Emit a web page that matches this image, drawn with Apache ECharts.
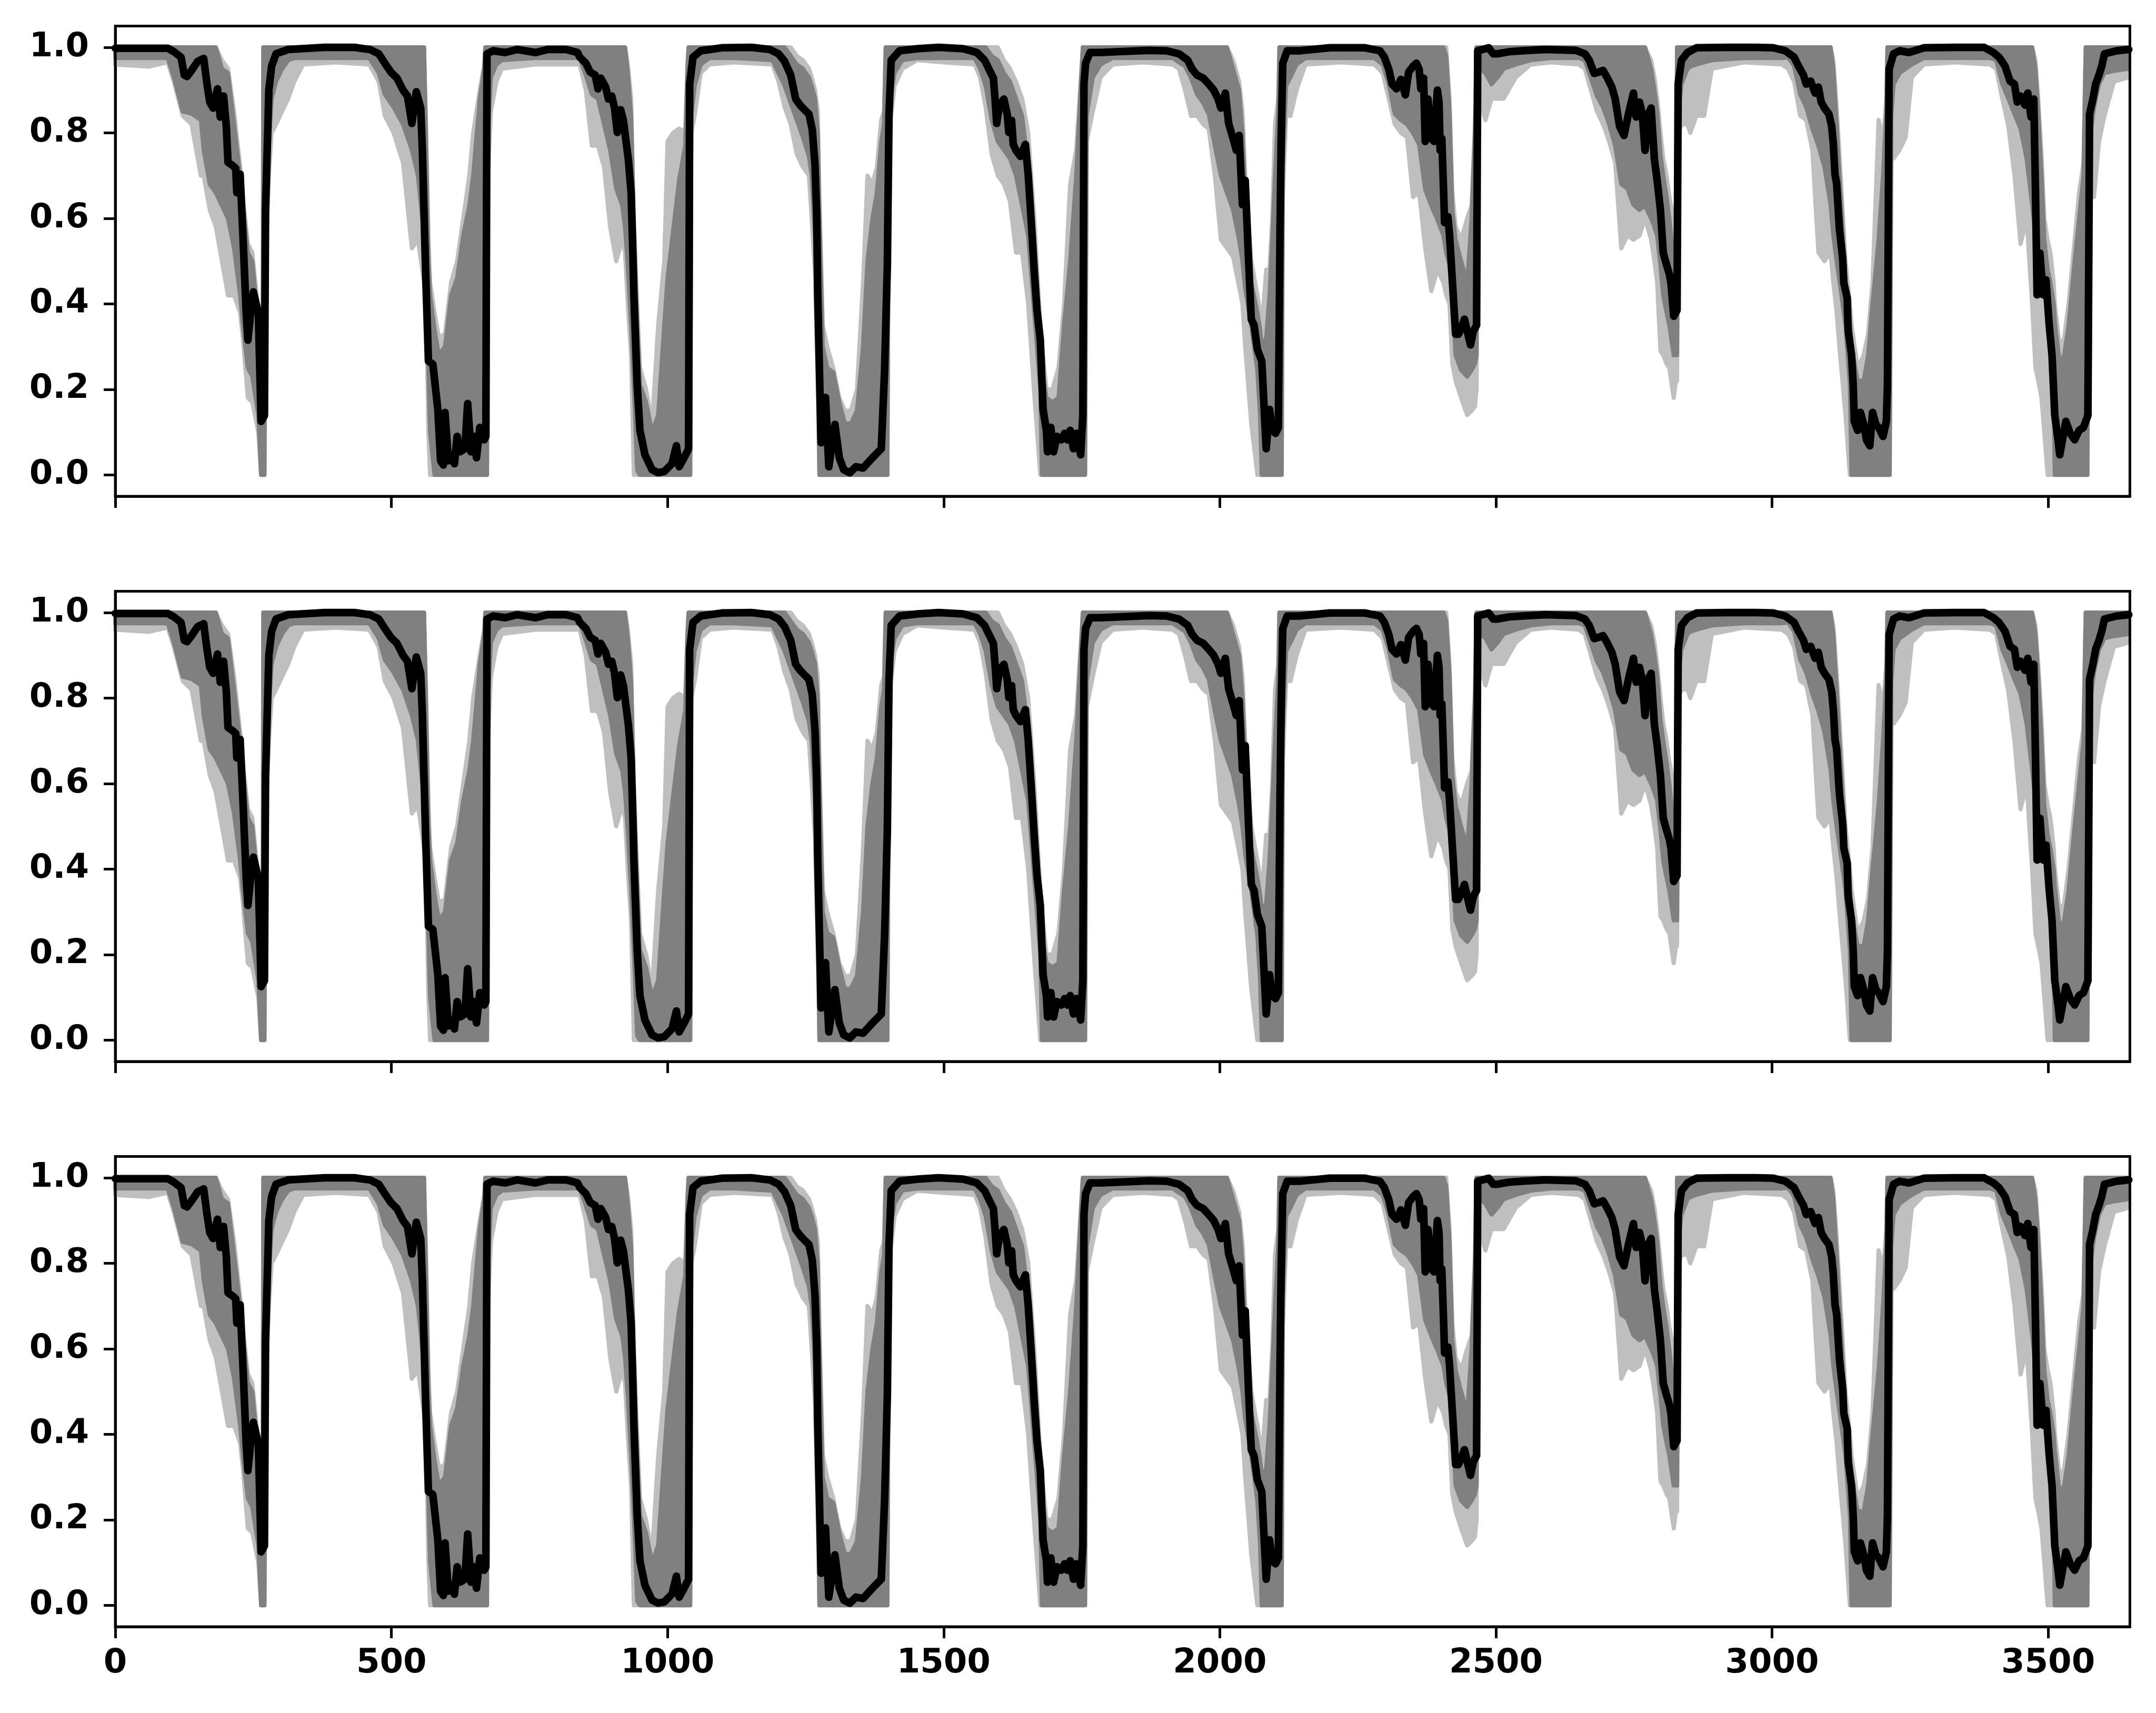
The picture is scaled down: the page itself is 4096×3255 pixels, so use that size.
<!DOCTYPE html>
<html><head><meta charset="utf-8">
<script src="https://cdn.jsdelivr.net/npm/echarts@6/dist/echarts.min.js"></script>
<style>html,body{margin:0;padding:0;background:#fff}#c{width:4096px;height:3255px}</style>
</head><body><div id="c"></div>
<script>
// ---- mean (black) curve ----
const meanX = [
0,95,106,119,125,130,138,149,160,166,
171,177,185,190,196,201,204,212,218,220,
226,231,237,240,245,250,259,264,270,272,
278,283,291,313,379,433,461,477,488,499,
510,521,529,537,545,553,556,562,567,575,
584,589,594,597,603,608,614,619,624,633,
638,644,649,654,660,668,671,673,684,706,
728,761,783,816,837,
841,852,860,869,874,879,888,893,899,904,
909,915,920,929,934,937,939,942,945,950,
959,972,983,994,1008,1016,1021,1030,1038,1040,
1046,1060,1098,1152,1185,1201,1212,1223,1232,1240,
1248,1256,1262,1267,1270,1272,1278,1286,1292,1303,
1311,1319,1330,1341,1354,1371,1387,1393,1398,1401,
1405,1420,1453,1491,1535,
1560,1574,1582,1590,1593,1596,1601,1609,1615,1618,
1623,1626,1631,1639,1648,1653,1658,1664,1669,1675,
1680,1686,1688,1694,1699,1705,1713,1719,1724,1729,
1735,1740,1748,1752,1754,1757,1765,1784,1817,1871,
1904,1926,1942,1950,1959,1970,1980,1989,1997,2002,
2010,2016,2024,2030,2035,2041,2046,2052,2057,2062,
2068,2076,2081,2084,2090,2095,2101,2106,2109,2111,
2114,2122,2144,2199,2253,
2263,2290,2298,2306,2312,2320,2328,2336,2342,2350,
2356,2361,2364,2369,2372,2377,2383,2388,2394,2397,
2399,2402,2405,2407,2413,2416,2421,2427,2432,2437,
2443,2448,2454,2459,2465,2467,2476,2487,2495,2503,
2525,2547,2590,2645,2661,2669,2678,2686,2694,2702,
2710,2716,2724,2732,2740,2749,2754,2760,2765,2770,
2776,2781,2787,2792,2798,2803,2809,2814,2817,2822,
2828,2830,2836,2847,2863,2918,2972,
3002,3024,3040,3048,3057,3062,3070,3078,3084,3089,
3095,3103,3108,3111,3114,3117,3122,3128,3130,3136,
3138,3144,3147,3149,3155,3160,3166,3171,3177,3182,
3188,3193,3201,3207,3209,3212,3220,3231,3248,3275,
3330,3384,3401,3411,3422,3431,3439,3444,3450,3458,
3463,3469,3474,3477,3480,3485,3491,3496,3502,3507,
3512,3518,3521,3526,3532,3540,3548,3556,3564,3572,
3575,3581,3586,3592,3597,3602,3624,3646
];
const meanY = [
.998,.998,.990,.977,.935,.932,.946,.967,.974,.914,
.872,.858,.903,.837,.886,.815,.731,.724,.717,.660,
.703,.562,.378,.315,.378,.428,.378,.125,.139,.618,
.900,.956,.985,.995,1.0,1.0,.995,.985,.963,.942,
.928,.900,.886,.822,.896,.858,.759,.470,.266,.259,
.153,.033,.023,.146,.033,.047,.026,.090,.054,.061,
.167,.054,.090,.040,.111,.082,.090,.985,.992,.988,
.995,.988,.995,.995,.988,
.977,.963,.942,.935,.903,.928,.907,.879,.886,.858,
.801,.854,.829,.738,.660,.526,.421,.315,.209,.104,
.047,.012,.005,.008,.026,.068,.019,.040,.061,.914,
.977,.992,.999,1.0,.995,.985,.967,.935,.879,.865,
.854,.844,.808,.724,.611,.421,.075,.181,.019,.118,
.040,.012,.005,.019,.016,.040,.061,.245,.491,.844,
.970,.992,.997,1.0,.997,
.988,.970,.949,.928,.879,.822,.865,.879,.844,.801,
.829,.773,.759,.745,.773,.703,.604,.477,.385,.315,
.153,.104,.054,.111,.054,.090,.082,.097,.082,.104,
.061,.097,.047,.139,.914,.963,.988,.988,.990,.993,
.992,.985,.970,.949,.935,.928,.914,.900,.879,.858,
.893,.822,.787,.759,.794,.632,.689,.505,.364,.350,
.294,.266,.139,.061,.153,.104,.097,.111,.562,.773,
.963,.992,.992,.999,.999,
.999,.992,.977,.949,.914,.903,.925,.889,.942,.956,
.963,.949,.903,.928,.780,.879,.787,.780,.900,.872,
.759,.787,.674,.590,.604,.562,.456,.329,.329,.343,
.364,.336,.304,.336,.350,.992,.995,.999,.985,.985,
.990,.992,.995,.993,.985,.970,.939,.942,.946,.928,
.907,.879,.815,.794,.844,.893,.837,.872,.844,.759,
.844,.858,.738,.689,.618,.519,.491,.470,.449,.371,
.385,.914,.970,.988,.999,1.0,1.0,
.999,.992,.977,.956,.935,.914,.921,.893,.907,.872,
.858,.844,.815,.773,.703,.681,.576,.505,.449,.414,
.336,.280,.209,.125,.104,.146,.118,.082,.068,.146,
.118,.111,.090,.125,.209,.949,.985,.992,.988,.999,
1.0,1.0,.988,.977,.956,.921,.914,.872,.886,.865,
.893,.837,.879,.667,.421,.519,.421,.456,.350,.280,
.139,.082,.047,.082,.125,.097,.082,.104,.111,.139,
.844,.879,.914,.935,.956,.985,.992,.995
];

// ---- spread of the individual runs (grey) ----
const bandX = [
0,60,95,106,122,138,155,160,171,182,193,204,215,226,231,240,248,259,264,267,268,270,272,278,283,291,302,313,324,340,400,
460,477,488,504,521,537,548,559,563,567,570,578,586,597,608,619,630,641,648,660,668,670,673,675,680,690,700,760,
841,852,863,874,885,896,907,918,923,928,934,939,945,950,961,972,983,994,1000,1010,1021,1032,1036,1038,1041,1043,1049,1060,1076,1120,
1190,1201,1212,1223,1234,1245,1256,1261,1267,1272,1275,1281,1289,1300,1311,1321,1332,1343,1354,1362,1371,1379,1387,1392,1395,1398,1401,1411,1425,1452,1500,
1556,1566,1576,1587,1598,1609,1620,1631,1642,1653,1664,1675,1678,1686,1697,1708,1718,1729,1740,1748,1752,1756,1759,1770,1784,1806,1860,
1915,1926,1937,1948,1959,1970,1980,1991,2002,2013,2024,2035,2041,2046,2057,2068,2073,2076,2084,2090,2095,2100,2106,2108,2112,2114,2120,2128,2139,2155,2220,
2280,2295,2306,2317,2328,2339,2350,2361,2372,2383,2394,2405,2410,2416,2421,2427,2437,2448,2456,2462,2465,2467,2470,2481,2492,2503,2514,2536,2563,2600,
2650,2661,2672,2683,2694,2705,2716,2727,2738,2749,2760,2770,2781,2787,2792,2798,2803,2809,2814,2822,2826,2828,2831,2836,2847,2852,2863,2877,2891,2950,
3018,3029,3040,3051,3062,3073,3084,3095,3106,3111,3117,3122,3133,3141,3144,3155,3166,3174,3182,3193,3201,3207,3209,3213,3216,3220,3231,3242,3253,3275,3330,
3395,3406,3417,3428,3439,3450,3461,3471,3477,3482,3488,3493,3499,3504,3510,3512,3521,3529,3537,3548,3556,3564,3568,3571,3574,3583,3592,3602,3619,3646
];
const coreHi = [
1,1,1,1,1,1,1,1,1,1,.95,.94,.82,.70,.63,.52,.50,.35,.28,.25,1,1,1,1,1,1,1,1,1,1,1,
1,1,1,1,1,1,1,1,.75,.50,.42,.34,.28,.30,.42,.46,.56,.63,.70,.88,.95,1,1,1,1,1,1,1,
1,1,1,1,1,1,1,1,1,.94,.84,.56,.35,.21,.17,.10,.14,.35,.46,.57,.69,.77,.95,1,1,1,1,1,1,1,
1,1,1,.98,.96,.95,.93,.91,.88,.80,.60,.30,.25,.24,.17,.12,.12,.15,.30,.50,.60,.66,.78,.82,1,1,1,1,1,1,1,
1,1,1,.98,.97,.94,.92,.88,.84,.72,.55,.30,.25,.18,.17,.18,.35,.50,.70,.90,1,1,1,1,1,1,1,
1,1,1,1,1,1,1,1,1,1,.95,.90,.80,.65,.45,.38,.34,.30,.32,.42,.55,.70,.85,1,1,1,1,1,1,1,1,
1,1,1,1,1,1,1,1,1,1,1,1,.98,.85,.62,.55,.50,.45,.60,.80,1,1,1,1,1,1,1,1,1,1,
1,1,1,1,1,1,1,1,1,1,1,1,.95,.90,.85,.75,.70,.65,.60,.50,.55,1,1,1,1,1,1,1,1,1,
1,1,1,1,1,1,1,1,1,.95,.82,.70,.45,.35,.30,.22,.22,.28,.40,.55,.70,.85,1,1,1,1,1,1,1,1,1,
1,1,1,1,1,1,1,1,.95,.85,.70,.55,.48,.45,.40,.36,.26,.28,.35,.50,.60,.70,1,1,1,1,1,1,1,1
];
const coreLo = [
.975,.975,.975,.93,.85,.845,.83,.76,.68,.66,.63,.60,.53,.42,.35,.25,.23,.14,0,0,0,0,.55,.77,.88,.92,.95,.97,.975,.975,.975,
.975,.94,.89,.86,.82,.76,.70,.56,.42,.25,.10,0,0,0,0,0,0,0,0,0,0,0,0,.80,.93,.96,.97,.975,
.975,.935,.89,.88,.82,.76,.67,.63,.58,.49,.35,.21,.01,0,0,0,0,0,0,0,0,0,0,0,0,.84,.91,.96,.975,.975,
.97,.94,.91,.87,.83,.79,.745,.70,.56,.32,0,0,0,0,0,0,0,0,0,0,0,0,0,0,0,0,.86,.94,.97,.975,.975,
.975,.95,.91,.83,.78,.76,.74,.70,.63,.56,.38,.20,0,0,0,0,0,0,0,0,0,0,.84,.93,.96,.975,.975,
.975,.965,.956,.928,.89,.87,.844,.77,.70,.66,.62,.55,.50,.435,.35,.245,.14,0,0,0,0,0,0,0,0,.72,.91,.93,.96,.975,.975,
.975,.96,.914,.844,.83,.82,.80,.773,.667,.63,.597,.56,.52,.49,.42,.28,.245,.23,.245,.26,.28,.90,.95,.94,.914,.93,.95,.96,.97,.975,
.975,.97,.928,.886,.86,.82,.77,.68,.67,.632,.62,.63,.60,.58,.56,.49,.42,.38,.35,.28,.28,.28,.86,.914,.95,.955,.96,.965,.97,.975,
.975,.977,.956,.89,.86,.81,.77,.72,.632,.56,.50,.456,.35,.21,0,0,0,0,0,0,0,0,0,0,.84,.914,.94,.95,.96,.975,.975,
.975,.97,.914,.88,.844,.81,.74,.632,.56,.53,.505,.45,.42,.35,.21,0,0,0,0,0,0,0,0,0,.77,.86,.914,.94,.945,.95
];
const lightHi = [
1,1,1,1,1,1,1,1,1,1,.97,.95,.85,.72,.65,.54,.52,.38,.30,.28,1,1,1,1,1,1,1,1,1,1,1,
1,1,1,1,1,1,1,1,.80,.55,.45,.38,.32,.33,.45,.50,.60,.70,.80,.90,.96,1,1,1,1,1,1,1,
1,1,1,1,1,1,1,1,1,.96,.88,.60,.40,.25,.20,.12,.35,.50,.78,.80,.81,.80,.95,1,1,1,1,1,1,1,
1,1,1,1,.98,.97,.95,.93,.90,.85,.65,.35,.30,.25,.18,.15,.15,.20,.45,.70,.68,.72,.83,.85,1,1,1,1,1,1,1,
1,1,1,1,1,.97,.95,.92,.88,.80,.60,.35,.30,.20,.20,.25,.40,.68,.76,.92,1,1,1,1,1,1,1,
1,1,1,1,1,1,1,1,1,1,.97,.92,.85,.70,.50,.42,.38,.34,.48,.48,.60,.82,.88,1,1,1,1,1,1,1,1,
1,1,1,1,1,1,1,1,1,1,1,1,1,.88,.66,.58,.55,.60,.63,.82,1,1,1,1,1,1,1,1,1,1,
1,1,1,1,1,1,1,1,1,1,1,1,.97,.93,.88,.80,.74,.70,.65,.60,.62,1,1,1,1,1,1,1,1,1,
1,1,1,1,1,1,1,1,1,.97,.86,.75,.50,.40,.35,.25,.28,.33,.45,.83,.78,.88,1,1,1,1,1,1,1,1,1,
1,1,1,1,1,1,1,1,.97,.88,.75,.60,.55,.52,.45,.40,.30,.32,.40,.55,.66,.73,1,1,1,1,1,1,1,1
];
const lightLo = [
.96,.955,.965,.92,.84,.82,.70,.70,.62,.58,.50,.42,.42,.38,.32,.18,.17,.10,0,0,0,0,.50,.70,.80,.82,.85,.88,.92,.96,.965,
.96,.92,.84,.80,.73,.53,.55,.45,.40,.10,0,0,0,0,0,0,0,0,0,0,0,0,0,.70,.85,.92,.95,.96,
.96,.90,.77,.77,.72,.58,.50,.55,.52,.40,.28,0,0,0,0,0,0,0,0,0,0,0,0,0,0,.80,.84,.94,.96,.965,
.96,.92,.86,.82,.75,.72,.70,.60,.47,.20,0,0,0,0,0,0,0,0,0,0,0,0,0,0,0,0,.80,.91,.95,.97,.965,
.96,.93,.86,.75,.70,.68,.64,.52,.52,.40,.19,0,0,0,0,0,0,0,0,0,0,0,.78,.85,.93,.96,.965,
.96,.95,.90,.84,.84,.82,.81,.70,.55,.53,.51,.44,.40,.30,.12,0,0,0,0,0,0,0,0,0,0,.65,.84,.84,.90,.96,.965,
.96,.94,.88,.82,.80,.79,.65,.66,.53,.43,.48,.45,.42,.40,.26,.22,.18,.14,.15,.16,.20,.85,.88,.83,.88,.88,.88,.93,.96,.965,
.96,.95,.90,.85,.82,.78,.73,.53,.56,.55,.56,.60,.55,.50,.45,.29,.28,.26,.25,.18,.22,.22,.80,.82,.82,.80,.84,.84,.95,.965,
.96,.95,.92,.84,.83,.76,.52,.50,.52,.45,.38,.30,.14,0,0,0,0,0,0,0,0,0,0,0,.74,.74,.76,.79,.93,.96,.965,
.96,.95,.88,.815,.70,.54,.60,.40,.25,.22,.18,.10,0,0,0,0,0,0,0,0,0,0,0,0,.65,.65,.78,.84,.92,.93
];

const xTicks = [0, 500, 1000, 1500, 2000, 2500, 3000, 3500];
const yTicks = [0, 0.2, 0.4, 0.6, 0.8, 1.0];

[coreHi, coreLo, lightHi, lightLo].forEach((a, k) => {
  if (a.length !== bandX.length) throw new Error('band array ' + k + ' length ' + a.length + ' vs ' + bandX.length);
});
if (meanX.length !== meanY.length) throw new Error('mean length ' + meanX.length + ' vs ' + meanY.length);

const S = 0.898;
const panelTops = [55, 1251, 2447].map(v => v * S);
const panelH = 995 * S;
const gridLeft = 244 * S;
const gridRight = 4096 - 4506 * S;
const font = { fontFamily: 'DejaVu Sans', fontWeight: 'bold', fontSize: 64, color: '#000' };

// band polygon drawn through the axis scales (api.coord)
function bandRenderer(hiArr, loArr, color) {
  return function (params, api) {
    const pts = [];
    for (let k = 0; k < bandX.length; k++) pts.push(api.coord([bandX[k], hiArr[k]]));
    for (let k = bandX.length - 1; k >= 0; k--) pts.push(api.coord([bandX[k], loArr[k]]));
    return {
      type: 'polygon',
      shape: { points: pts },
      style: { fill: color, stroke: color, lineWidth: 8, lineJoin: 'round' }
    };
  };
}

const grid = [], xAxis = [], yAxis = [], series = [];
for (let i = 0; i < 3; i++) {
  grid.push({ left: gridLeft, right: gridRight, top: panelTops[i], height: panelH,
    show: true, borderColor: '#000', borderWidth: 5, backgroundColor: 'transparent', z: 10 });
  xAxis.push({ gridIndex: i, type: 'value', min: 0, max: 3648,
    axisLine: { show: true, onZero: false, lineStyle: { color: '#000', width: 5 } },
    axisTick: { show: true, length: 22, lineStyle: { color: '#000', width: 5 }, customValues: xTicks },
    axisLabel: Object.assign({ show: i === 2, margin: 38, customValues: xTicks, formatter: v => String(Math.round(v)) }, font),
    splitLine: { show: false } });
  yAxis.push({ gridIndex: i, type: 'value', min: -0.05, max: 1.05,
    axisLine: { show: true, lineStyle: { color: '#000', width: 5 } },
    axisTick: { show: true, length: 22, lineStyle: { color: '#000', width: 5 }, customValues: yTicks },
    axisLabel: Object.assign({ margin: 50, customValues: yTicks, formatter: v => Number(v).toFixed(1) }, font),
    splitLine: { show: false } });

  series.push({ type: 'custom', xAxisIndex: i, yAxisIndex: i, silent: true, animation: false,
    data: [[0, 0]], renderItem: bandRenderer(lightHi, lightLo, '#bfbfbf'), z: 1 });
  series.push({ type: 'custom', xAxisIndex: i, yAxisIndex: i, silent: true, animation: false,
    data: [[0, 0]], renderItem: bandRenderer(coreHi, coreLo, '#808080'), z: 2 });
  series.push({ type: 'line', xAxisIndex: i, yAxisIndex: i, symbol: 'none', showSymbol: false,
    silent: true, animation: false, z: 3,
    data: meanX.map((x, k) => [x, meanY[k]]),
    lineStyle: { color: '#000', width: 14.5, join: 'round', cap: 'round' } });
}

const chart = echarts.init(document.getElementById('c'), null, { renderer: 'canvas' });
chart.setOption({ animation: false, backgroundColor: '#fff', grid, xAxis, yAxis, series });
</script>
</body></html>
